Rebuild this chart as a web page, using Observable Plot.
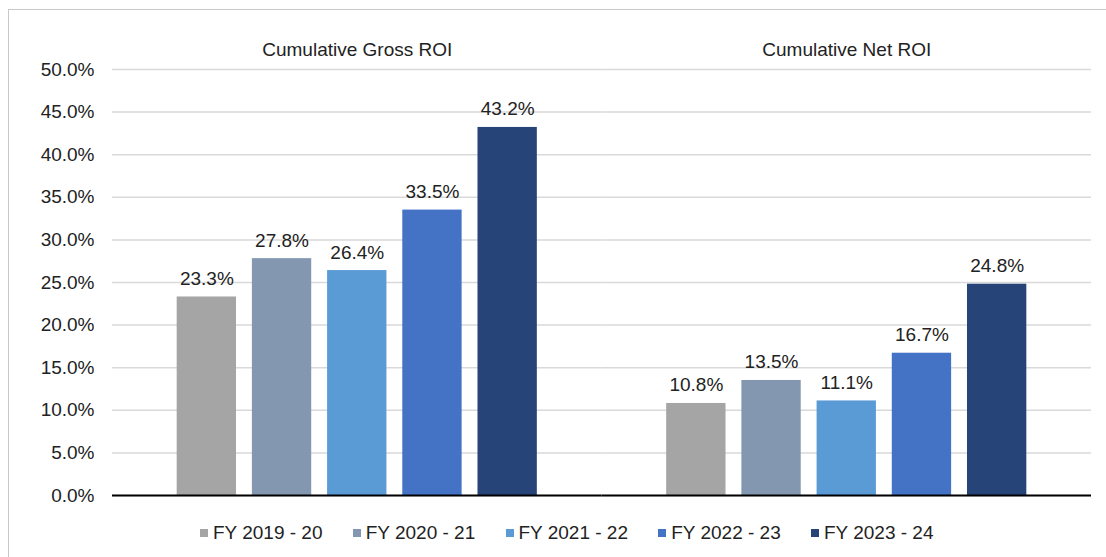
<!DOCTYPE html>
<html><head><meta charset="utf-8">
<script src="https://cdn.jsdelivr.net/npm/d3@7"></script>
<script src="https://cdn.jsdelivr.net/npm/@observablehq/plot@0.6"></script>
<style>
html,body{margin:0;padding:0;background:#fff;overflow:hidden;width:1106px;height:557px;}
#frame{position:absolute;left:8px;top:9px;width:1200px;height:700px;border-left:1.5px solid #c9c9c9;border-top:1.5px solid #c9c9c9;box-sizing:border-box;}
#chart{position:relative;}
#chart svg{display:block;}
#legend{position:relative;display:flex;margin-left:200px;margin-top:22px;font:19px "Liberation Sans", Arial, sans-serif;color:#222;line-height:22px;}
.item{width:152.75px;display:flex;align-items:center;white-space:nowrap;}
.sw{width:8px;height:8px;margin-right:5px;flex:none;}
</style>
</head><body>
<div id="frame"></div>
<div id="chart"></div>
<div id="legend"></div>
<script>
const groups = ["Cumulative Gross ROI", "Cumulative Net ROI"];
const years = ["FY 2019 - 20", "FY 2020 - 21", "FY 2021 - 22", "FY 2022 - 23", "FY 2023 - 24"];
const grossValues = [23.3, 27.8, 26.4, 33.5, 43.2];
const netValues = [10.8, 13.5, 11.1, 16.7, 24.8];
const colors = ["#a5a5a5", "#8497b0", "#5b9bd5", "#4472c4", "#264478"];
const yTicks = [0, 5, 10, 15, 20, 25, 30, 35, 40, 45, 50];

const data = [];
years.forEach((y, i) => data.push({group: groups[0], year: y, value: grossValues[i]}));
years.forEach((y, i) => data.push({group: groups[1], year: y, value: netValues[i]}));

const fmt = d => d.toFixed(1) + "%";

const chart = Plot.plot({
  width: 1106,
  height: 500,
  marginLeft: 112,
  marginRight: 15,
  marginTop: 69,
  marginBottom: 5,
  style: {fontFamily: "'Liberation Sans', Arial, sans-serif", fontSize: "19px", color: "#222", background: "transparent", overflow: "visible"},
  fx: {domain: groups, padding: 0, round: false},
  x: {domain: years, paddingInner: 0.211, paddingOuter: 0.86, round: false, axis: null},
  y: {domain: [0, 50]},
  color: {domain: years, range: colors},
  marks: [
    Plot.gridY(yTicks, {stroke: "#d9d9d9", strokeOpacity: 1, strokeWidth: 1.5}),
    Plot.axisY(yTicks, {tickSize: 0, tickPadding: 18, tickFormat: fmt, label: null, fontSize: 19, fill: "#222"}),
    Plot.axisFx({anchor: "top", tickSize: 0, tickPadding: 14, label: null, fontSize: 19, fill: "#222"}),
    Plot.barY(data, {fx: "group", x: "year", y: "value", fill: "year"}),
    Plot.text(data, {fx: "group", x: "year", y: "value", text: d => fmt(d.value), dy: -12, lineAnchor: "bottom", fontSize: 19, fill: "#222"}),
    Plot.ruleY([0], {stroke: "#000", strokeWidth: 2})
  ]
});
document.getElementById("chart").appendChild(chart);

const legend = document.getElementById("legend");
years.forEach((y, i) => {
  const item = document.createElement("div");
  item.className = "item";
  const sw = document.createElement("span");
  sw.className = "sw";
  sw.style.background = colors[i];
  const t = document.createElement("span");
  t.textContent = y;
  item.appendChild(sw);
  item.appendChild(t);
  legend.appendChild(item);
});
</script>
</body></html>
